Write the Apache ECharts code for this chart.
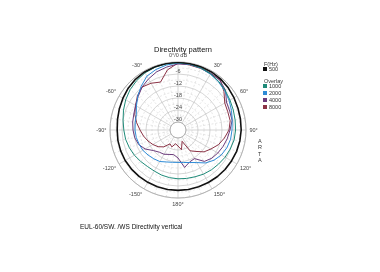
<!DOCTYPE html>
<html><head><meta charset="utf-8">
<script src="https://cdn.jsdelivr.net/npm/echarts@6/dist/echarts.min.js"></script>
<style>html,body{margin:0;padding:0;background:#fff}#c{width:380px;height:272px}</style>
</head><body><div id="c"></div>
<script>
// angles in degrees (clockwise from front), dB values per frequency
const angles = [-180,-170,-160,-150,-140,-130,-120,-110,-100,-90,-80,-70,-60,-50,-40,-30,-20,-10,0,10,20,30,40,50,60,70,80,90,100,110,120,130,140,150,160,170];
const f500  = [-3.8,-3.8,-3.8,-3.8,-3.7,-3.6,-3.5,-3.5,-3.5,-3.6,-3.3,-2.8,-2.2,-1.5,-0.9,-0.5,-0.3,-0.2,-0.1,-0.2,-0.3,-0.5,-0.8,-1.2,-1.7,-2.1,-2.3,-2.4,-2.6,-2.8,-3.1,-3.3,-3.5,-3.7,-3.8,-3.8];
const f1000 = [-9.6,-9.8,-10,-10.3,-10.2,-9.6,-8.8,-8.1,-7.4,-6.9,-6.1,-5,-3.8,-2.7,-1.8,-1,-0.6,-0.4,-0.3,-0.5,-0.9,-1.5,-2.3,-3.2,-4,-4.6,-5,-5.2,-5.5,-6.2,-6.8,-7.5,-8,-8.5,-9.1,-9.4];
const f2000 = [-17.8,-17.6,-17,-15.8,-15.2,-14.5,-13.7,-13.3,-12.8,-12.5,-12.3,-11.8,-10,-7.7,-5.4,-2.9,-1.8,-1,-0.5,-0.6,-1,-1.7,-2.5,-3.5,-4.5,-5.5,-6.5,-7,-7.3,-8,-9,-10.5,-12.5,-15.2,-16.7,-17.5];
const f4000 = [-20,-21.5,-21,-20,-19.5,-18,-15,-13,-12,-11.5,-11,-10.5,-9.5,-8,-6,-4.5,-3,-2,-1,-0.8,-1,-1.2,-1.5,-3,-6,-6.5,-6.5,-8,-9,-10,-11,-12,-13.5,-17.5,-17,-15];
const f8000 = [-26,-27,-25,-26,-23,-21,-19.5,-18,-16.5,-15,-13,-11,-9.5,-7.5,-6,-7,-8.5,-3.5,-0.5,-1,-1.2,-1.5,-1.2,-4,-7,-7.5,-7.5,-8.5,-10.5,-12.5,-15,-17,-20,-22,-28,-24];
const freqNames = ['500','1000','2000','4000','8000'];
const colors = ['#111111','#1e8a78','#2e8bd6','#6b3b7b','#8b3346'];
const seriesVals = [f500,f1000,f2000,f4000,f8000];

function build(vals){
  const d = angles.map((a,i)=>[vals[i], a<0 ? a+360 : a]);
  d.push(d[0].slice());
  return d;
}
const chart = echarts.init(document.getElementById('c'));
const font = 'Liberation Sans, Arial, sans-serif';
chart.setOption({
  animation:false,
  title:[
    {text:'Directivity pattern', left:178, top:41, textAlign:'center', textStyle:{fontSize:7.5,fontWeight:'normal',color:'#111',fontFamily:font}},
    {text:'F(Hz)', left:259, top:56, textStyle:{fontSize:5.5,fontWeight:'normal',color:'#333',fontFamily:font}},
    {text:'Overlay', left:259, top:73, textStyle:{fontSize:5.5,fontWeight:'normal',color:'#333',fontFamily:font}},
    {text:'A\nR\nT\nA', left:253, top:133, textStyle:{fontSize:5.5,fontWeight:'normal',color:'#333',lineHeight:6.5,fontFamily:font}},
    {text:'EUL-60/SW. /WS Directivity vertical', left:75, top:219, textStyle:{fontSize:6.5,fontWeight:'normal',color:'#111',fontFamily:font}}
  ],
  legend:[
    {data:['500'], left:258, top:64, orient:'vertical', itemWidth:4, itemHeight:4, itemGap:1, icon:'rect', padding:[2,5],
     textStyle:{fontSize:5.5,color:'#333',padding:[0,0,0,-3],fontFamily:font}},
    {data:['1000','2000','4000','8000'], left:258, top:81, orient:'vertical', itemWidth:4, itemHeight:4, itemGap:1, icon:'rect', padding:[2,5],
     textStyle:{fontSize:5.5,color:'#333',padding:[0,0,0,-3],fontFamily:font}}
  ],
  polar:{center:[178,130], radius:[8,68]},
  angleAxis:{type:'value', min:0, max:360, interval:30, startAngle:90, clockwise:true,
    axisLine:{show:true, lineStyle:{color:'#aaa', width:0.8}},
    axisTick:{show:false},
    axisLabel:{fontSize:5.5, color:'#444', margin:3.5, fontFamily:font,
      formatter:v=>{ if(v===360) return ''; if(v===0) return '0°/0 dB'; const a = v>180? v-360 : v; return a+'°'; }},
    splitLine:{show:true, lineStyle:{color:'#bbb', width:0.6}},
    minorTick:{show:false, splitNumber:3},
    minorSplitLine:{show:true, lineStyle:{color:'#ccc', width:0.5, type:[2,2]}}
  },
  radiusAxis:{type:'value', min:-30, max:0, interval:6,
    axisLine:{show:false}, axisTick:{show:false},
    axisLabel:{fontSize:5.5, color:'#444', fontFamily:font, align:'center', margin:0, verticalAlign:'bottom',
      formatter:v=> v===0 ? '' : String(v)},
    splitLine:{show:true, lineStyle:{color:'#bbb', width:0.6}},
    minorTick:{show:false, splitNumber:2},
    minorSplitLine:{show:true, lineStyle:{color:'#ccc', width:0.5, type:[2,2]}}
  },
  series: seriesVals.map((v,i)=>({
    type:'line', name:freqNames[i], coordinateSystem:'polar', data:build(v),
    showSymbol:false, symbol:'none', z: 10-i,
    lineStyle:{color:colors[i], width: i===0 ? 1.6 : 1},
    itemStyle:{color:colors[i]}
  }))
});
</script></body></html>
